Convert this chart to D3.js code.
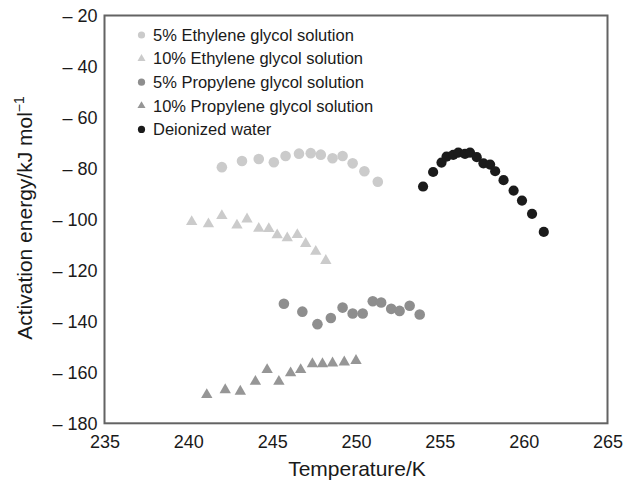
<!DOCTYPE html>
<html>
<head>
<meta charset="utf-8">
<script src="https://cdn.jsdelivr.net/npm/d3@7"></script>
<style>
  html, body { margin: 0; padding: 0; background: #fff; }
  svg { display: block; font-family: "Liberation Sans", Arial, Helvetica, sans-serif; }
</style>
</head>
<body>
<svg id="chart" width="625" height="481"></svg>
<script>
// ---- Data ----
const seriesNames = [
  "5% Ethylene glycol solution",
  "10% Ethylene glycol solution",
  "5% Propylene glycol solution",
  "10% Propylene glycol solution",
  "Deionized water"
];

const eg5_T = [242.0, 243.2, 244.2, 245.1, 245.8, 246.6, 247.3, 247.9, 248.6, 249.2, 249.8, 250.5, 251.3];
const eg5_E = [-79.5, -77.1, -76.3, -77.6, -75.1, -74.2, -74.0, -74.6, -76.0, -75.1, -78.0, -81.1, -85.2];

const eg10_T = [240.2, 241.2, 242.0, 242.9, 243.5, 244.2, 244.8, 245.3, 245.9, 246.5, 247.0, 247.6, 248.2];
const eg10_E = [-100.9, -101.8, -98.6, -102.3, -99.9, -103.6, -103.7, -106.1, -107.3, -106.0, -109.5, -112.6, -116.2];

const pg5_T = [245.7, 246.8, 247.7, 248.5, 249.2, 249.8, 250.4, 251.0, 251.5, 252.1, 252.6, 253.2, 253.8];
const pg5_E = [-133.1, -136.2, -141.1, -138.7, -134.6, -136.9, -136.9, -132.1, -132.6, -135.1, -135.9, -133.9, -137.3];

const pg10_T = [241.1, 242.2, 243.1, 244.0, 244.7, 245.4, 246.1, 246.7, 247.4, 248.0, 248.6, 249.3, 250.0];
const pg10_E = [-168.8, -166.9, -167.5, -163.6, -159.0, -163.6, -160.3, -159.0, -156.7, -156.7, -156.4, -156.0, -155.4];

const water_T = [254.0, 254.6, 255.1, 255.4, 255.8, 256.1, 256.5, 256.8, 257.2, 257.6, 258.0, 258.3, 258.8, 259.4, 259.9, 260.5, 261.2];
const water_E = [-87.1, -81.4, -77.7, -75.4, -74.7, -73.8, -74.3, -73.8, -75.6, -78.0, -78.5, -81.1, -84.6, -88.7, -92.6, -97.8, -104.9];

const xTicks = [235, 240, 245, 250, 255, 260, 265];
const yTicks = [-20, -40, -60, -80, -100, -120, -140, -160, -180];

// ---- Styles ----
const styles = [
  { shape: "circle",   color: "#cbcbcb", r: 5.3 },
  { shape: "triangle", color: "#cbcbcb", r: 5.3 },
  { shape: "circle",   color: "#8e8e8e", r: 5.3 },
  { shape: "triangle", color: "#969696", r: 5.3 },
  { shape: "circle",   color: "#1b1b1b", r: 5.1 }
];

const series = [
  { T: eg5_T, E: eg5_E },
  { T: eg10_T, E: eg10_E },
  { T: pg5_T, E: pg5_E },
  { T: pg10_T, E: pg10_E },
  { T: water_T, E: water_E }
].map((s, i) => ({
  name: seriesNames[i],
  style: styles[i],
  points: s.T.map((t, j) => ({ t, e: s.E[j] }))
}));

// ---- Layout ----
const svg = d3.select("#chart");
const mLeft = 104.5, mRight = 607.5, mTop = 15.5, mBottom = 423.3;

const x = d3.scaleLinear().domain([235, 265]).range([mLeft, mRight]);
const y = d3.scaleLinear().domain([-180, -20]).range([mBottom, mTop]);

// Frame
svg.append("rect")
  .attr("x", mLeft).attr("y", mTop)
  .attr("width", mRight - mLeft).attr("height", mBottom - mTop)
  .attr("fill", "none").attr("stroke", "#636363").attr("stroke-width", 2);

// Y tick labels
const yAxis = d3.axisLeft(y).tickValues(yTicks).tickSize(0).tickPadding(7)
  .tickFormat(d => "\u2013 " + Math.abs(d));
const yg = svg.append("g").attr("transform", `translate(${mLeft},0)`).call(yAxis);
yg.select(".domain").remove();
yg.selectAll("text").attr("font-size", 18).attr("fill", "#1a1a1a")
  .attr("font-family", "Liberation Sans, Arial, sans-serif");

// X tick labels
const xAxis = d3.axisBottom(x).tickValues(xTicks).tickSize(0).tickPadding(12)
  .tickFormat(d3.format("d"));
const xg = svg.append("g").attr("transform", `translate(0,${mBottom})`).call(xAxis);
xg.select(".domain").remove();
xg.selectAll("text").attr("font-size", 18).attr("fill", "#1a1a1a")
  .attr("font-family", "Liberation Sans, Arial, sans-serif");

// Axis titles
svg.append("text")
  .attr("x", 357).attr("y", 476)
  .attr("text-anchor", "middle").attr("font-size", 21).attr("fill", "#1a1a1a")
  .text("Temperature/K");

const yt = svg.append("text")
  .attr("transform", `translate(32,218) rotate(-90)`)
  .attr("text-anchor", "middle").attr("font-size", 21).attr("fill", "#1a1a1a");
yt.append("tspan").text("Activation energy/kJ mol");
yt.append("tspan").attr("dy", -8).attr("font-size", 14).text("\u22121");

// Marker helper
function drawMarker(sel, shape, color, r, triSize) {
  if (shape === "circle") {
    sel.append("circle").attr("r", r).attr("fill", color);
  } else {
    sel.append("path").attr("d", d3.symbol(d3.symbolTriangle, triSize)()).attr("fill", color);
  }
}

// Points
series.forEach(s => {
  const g = svg.append("g");
  s.points.forEach(p => {
    const m = g.append("g").attr("transform", `translate(${x(p.t)},${y(p.e)})`);
    drawMarker(m, s.style.shape, s.style.color, s.style.r, 56);
  });
});

// Legend
const legend = svg.append("g");
series.forEach((s, i) => {
  const cy = 35 + i * 23.6;
  const m = legend.append("g").attr("transform", `translate(141.5,${cy})`);
  drawMarker(m, s.style.shape, s.style.color, 3.6, 28);
  legend.append("text")
    .attr("x", 153).attr("y", cy + 5.8)
    .attr("font-size", 16.5).attr("fill", "#1a1a1a")
    .text(s.name);
});
</script>
</body>
</html>
